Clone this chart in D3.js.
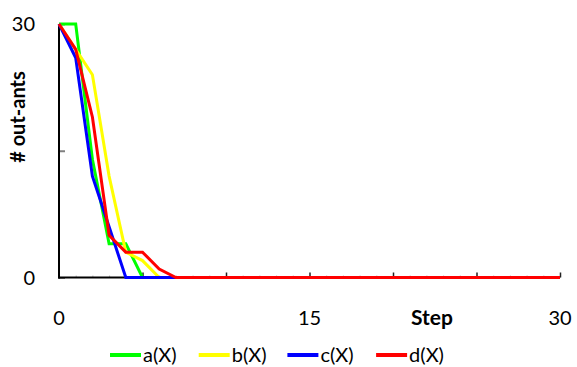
<!DOCTYPE html>
<html>
<head>
<script src="https://d3js.org/d3.v7.min.js"></script>
<style>
  body { margin: 0; background: #fff; }
  text { font-family: Lato, "Open Sans", sans-serif; fill: #000; }
</style>
</head>
<body>
<svg id="chart" width="577" height="367"></svg>
<script>
// datos
var steps = [0,1,2,3,4,5,6,7,8,9,10,11,12,13,14,15,16,17,18,19,20,21,22,23,24,25,26,27,28,29,30];
var aX = [30,30,14,4,4,0,0,0,0,0,0,0,0,0,0,0,0,0,0,0,0,0,0,0,0,0,0,0,0,0,0];
var bX = [30,27,24,12,3,2,0,0,0,0,0,0,0,0,0,0,0,0,0,0,0,0,0,0,0,0,0,0,0,0,0];
var cX = [30,26,12,6,0,0,0,0,0,0,0,0,0,0,0,0,0,0,0,0,0,0,0,0,0,0,0,0,0,0,0];
var dX = [30,27,19,5,3,3,1,0,0,0,0,0,0,0,0,0,0,0,0,0,0,0,0,0,0,0,0,0,0,0,0];
var seriesNames = ["a(X)", "b(X)", "c(X)", "d(X)"];
var seriesColors = ["#00ff00", "#ffff00", "#0000ff", "#ff0000"];
var xTickLabels = [0, 15, 30];
var yTickLabels = [0, 30];

var series = [aX, bX, cX, dX].map((v, i) => ({name: seriesNames[i], color: seriesColors[i], values: v}));

var svg = d3.select("#chart");
var x = d3.scaleLinear([0, 30], [59, 560]);
var y = d3.scaleLinear([0, 30], [277.5, 24]);

// ticks menores en x (grises, muy cortos)
svg.append("g")
  .attr("transform", "translate(0," + y(0) + ")")
  .call(d3.axisBottom(x).tickValues(steps).tickSize(-2).tickFormat(""))
  .call(g => g.select(".domain").remove())
  .selectAll("line").attr("stroke", "#bbb");

// ticks mayores en x
svg.append("g")
  .attr("transform", "translate(0," + y(0) + ")")
  .call(d3.axisBottom(x).tickValues([5,10,15,20,25,30]).tickSize(-5).tickFormat(""))
  .call(g => g.select(".domain").remove())
  .selectAll("line").attr("stroke", "#222").attr("stroke-width", 1.5);

// ticks en y (grises hacia dentro)
svg.append("g")
  .attr("transform", "translate(" + x(0) + ",0)")
  .call(d3.axisLeft(y).tickValues([0,15,30]).tickSize(-6).tickFormat(""))
  .call(g => g.select(".domain").remove())
  .selectAll("line").attr("stroke", "#808080").attr("stroke-width", 2);

// ejes
svg.append("line").attr("x1", x(0)).attr("x2", x(0)).attr("y1", y(30)).attr("y2", y(0) + 1)
  .attr("stroke", "#000").attr("stroke-width", 2);
svg.append("line").attr("x1", x(0) - 1).attr("x2", x(30)).attr("y1", y(0)).attr("y2", y(0))
  .attr("stroke", "#000").attr("stroke-width", 2);

// lineas de las series
var line = d3.line().x((d, i) => x(steps[i])).y(d => y(d));
svg.selectAll("path.serie")
  .data(series)
  .join("path")
  .attr("class", "serie")
  .attr("fill", "none")
  .attr("stroke", d => d.color)
  .attr("stroke-width", 3)
  .attr("d", d => line(d.values));

// etiquetas
svg.selectAll("text.ytick")
  .data(yTickLabels)
  .join("text")
  .attr("class", "ytick")
  .attr("x", 35).attr("y", d => y(d) + 7)
  .attr("text-anchor", "end")
  .style("font-size", "20px")
  .text(d => d);

svg.selectAll("text.xtick")
  .data(xTickLabels)
  .join("text")
  .attr("class", "xtick")
  .attr("x", d => x(d)).attr("y", 325)
  .attr("text-anchor", "middle")
  .style("font-size", "20px")
  .text(d => d);

svg.append("text")
  .attr("x", 432).attr("y", 325)
  .attr("text-anchor", "middle")
  .style("font-size", "21px").style("font-weight", "bold")
  .text("Step");

svg.append("text")
  .attr("transform", "translate(25,117) rotate(-90)")
  .attr("text-anchor", "middle")
  .style("font-size", "20px").style("font-weight", "bold")
  .text("# out-ants");

// leyenda
var leg = svg.selectAll("g.leg")
  .data(series)
  .join("g")
  .attr("class", "leg")
  .attr("transform", (d, i) => "translate(" + (110 + i * 88.7) + ",355)");
leg.append("line")
  .attr("x1", 0).attr("x2", 31).attr("y1", 0).attr("y2", 0)
  .attr("stroke", d => d.color).attr("stroke-width", 4);
leg.append("text")
  .attr("x", 33).attr("y", 7)
  .style("font-size", "20px")
  .text(d => d.name);
</script>
</body>
</html>
